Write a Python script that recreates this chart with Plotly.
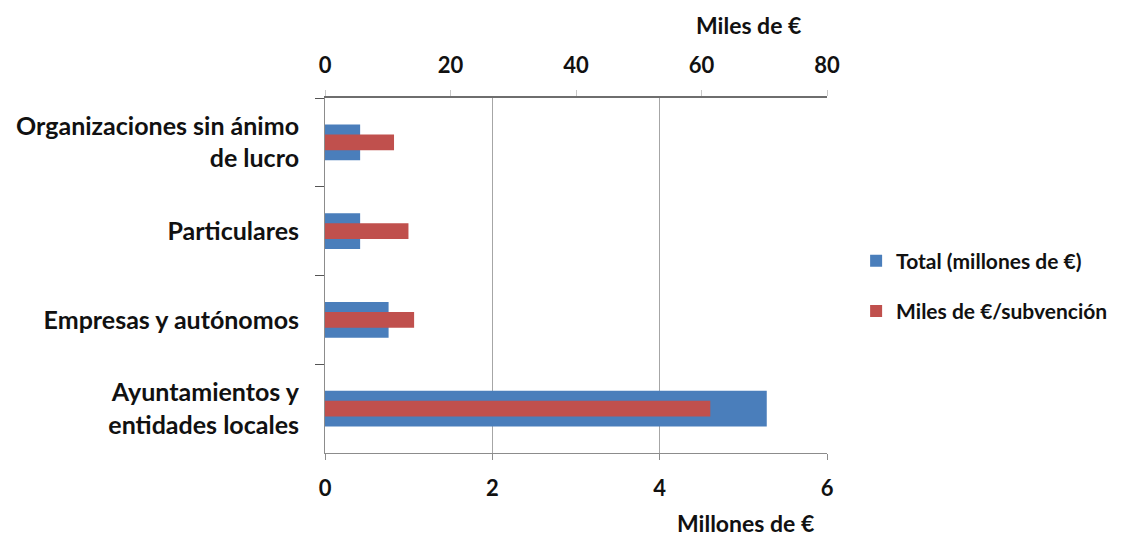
import plotly.graph_objects as go

categories = ["Organizaciones sin ánimo<br>de lucro", "Particulares", "Empresas y autónomos", "Ayuntamientos y<br>entidades locales"]
total_millones = [0.42, 0.42, 0.76, 5.28]
miles_por_subvencion = [11.0, 13.3, 14.2, 61.4]
bottom_ticks = [0, 2, 4, 6]
top_ticks = [0, 20, 40, 60, 80]

BLUE = "#4A7EBB"
RED = "#C0504D"
FONT = "Lato, 'Open Sans', sans-serif"

fig = go.Figure()
fig.add_trace(go.Bar(
    y=categories, x=total_millones, orientation="h", name="Total (millones de €)",
    marker=dict(color=BLUE, line=dict(width=0)), width=0.405, xaxis="x", yaxis="y",
    legendgroup="a"))
fig.add_trace(go.Bar(
    y=categories, x=miles_por_subvencion, orientation="h", name="Miles de €/subvención",
    marker=dict(color=RED, line=dict(width=0)), width=0.18, xaxis="x2", yaxis="y",
    legendgroup="b"))

fig.update_layout(
    width=1131, height=538,
    margin=dict(l=325, r=304, t=98, b=85),
    paper_bgcolor="white", plot_bgcolor="white",
    barmode="overlay",
    font=dict(family=FONT, size=22, color="#111111"),
    showlegend=True,
    legend=dict(x=1.058, y=0.47, xanchor="left", yanchor="middle",
                font=dict(family=FONT, size=21, color="#111111", weight="bold"),
                traceorder="grouped", tracegroupgap=20,
                bgcolor="rgba(0,0,0,0)"),
    xaxis=dict(range=[0, 6], tickvals=bottom_ticks, showgrid=True, gridcolor="#A6A6A6",
               gridwidth=1, zeroline=False, showline=True, linecolor="#8C8C8C", linewidth=1,
               ticks="outside", ticklen=6, tickcolor="#8C8C8C", automargin=False,
               tickfont=dict(family=FONT, size=22, weight="bold"), ticklabelstandoff=10),
    xaxis2=dict(range=[0, 80], tickvals=top_ticks, overlaying="x", side="top",
                showgrid=False, zeroline=False, showline=True, linecolor="#6E6E6E", linewidth=1.5,
                ticks="outside", ticklen=6, tickcolor="#C8C8C8", automargin=False,
                tickfont=dict(family=FONT, size=22, weight="bold"), ticklabelstandoff=8),
    yaxis=dict(autorange="reversed", type="category", showgrid=False, zeroline=False,
               showline=True, linecolor="#8C8C8C", linewidth=1, automargin=False,
               ticks="outside", ticklen=9, tickcolor="#555555", tickson="boundaries",
               tickfont=dict(family=FONT, size=25, weight="bold"), ticklabelstandoff=20),
    annotations=[
        dict(text="Miles de €", xref="paper", yref="paper", x=0.843, y=1.0, xanchor="center",
             yanchor="middle", yshift=73, showarrow=False,
             font=dict(family=FONT, size=23, weight="bold")),
        dict(text="Millones de €", xref="paper", yref="paper", x=0.837, y=0.0, xanchor="center",
             yanchor="middle", yshift=-70, showarrow=False,
             font=dict(family=FONT, size=23, weight="bold")),
    ],
)

post = ("document.body.style.margin='0';document.body.style.padding='0';"
        "document.body.style.overflow='hidden';"
        "var gd=document.getElementById('{plot_id}');"
        "Plotly.relayout(gd,{width:1131,height:538});")
fig.write_html("out.html", post_script=post, config={"displayModeBar": False})
